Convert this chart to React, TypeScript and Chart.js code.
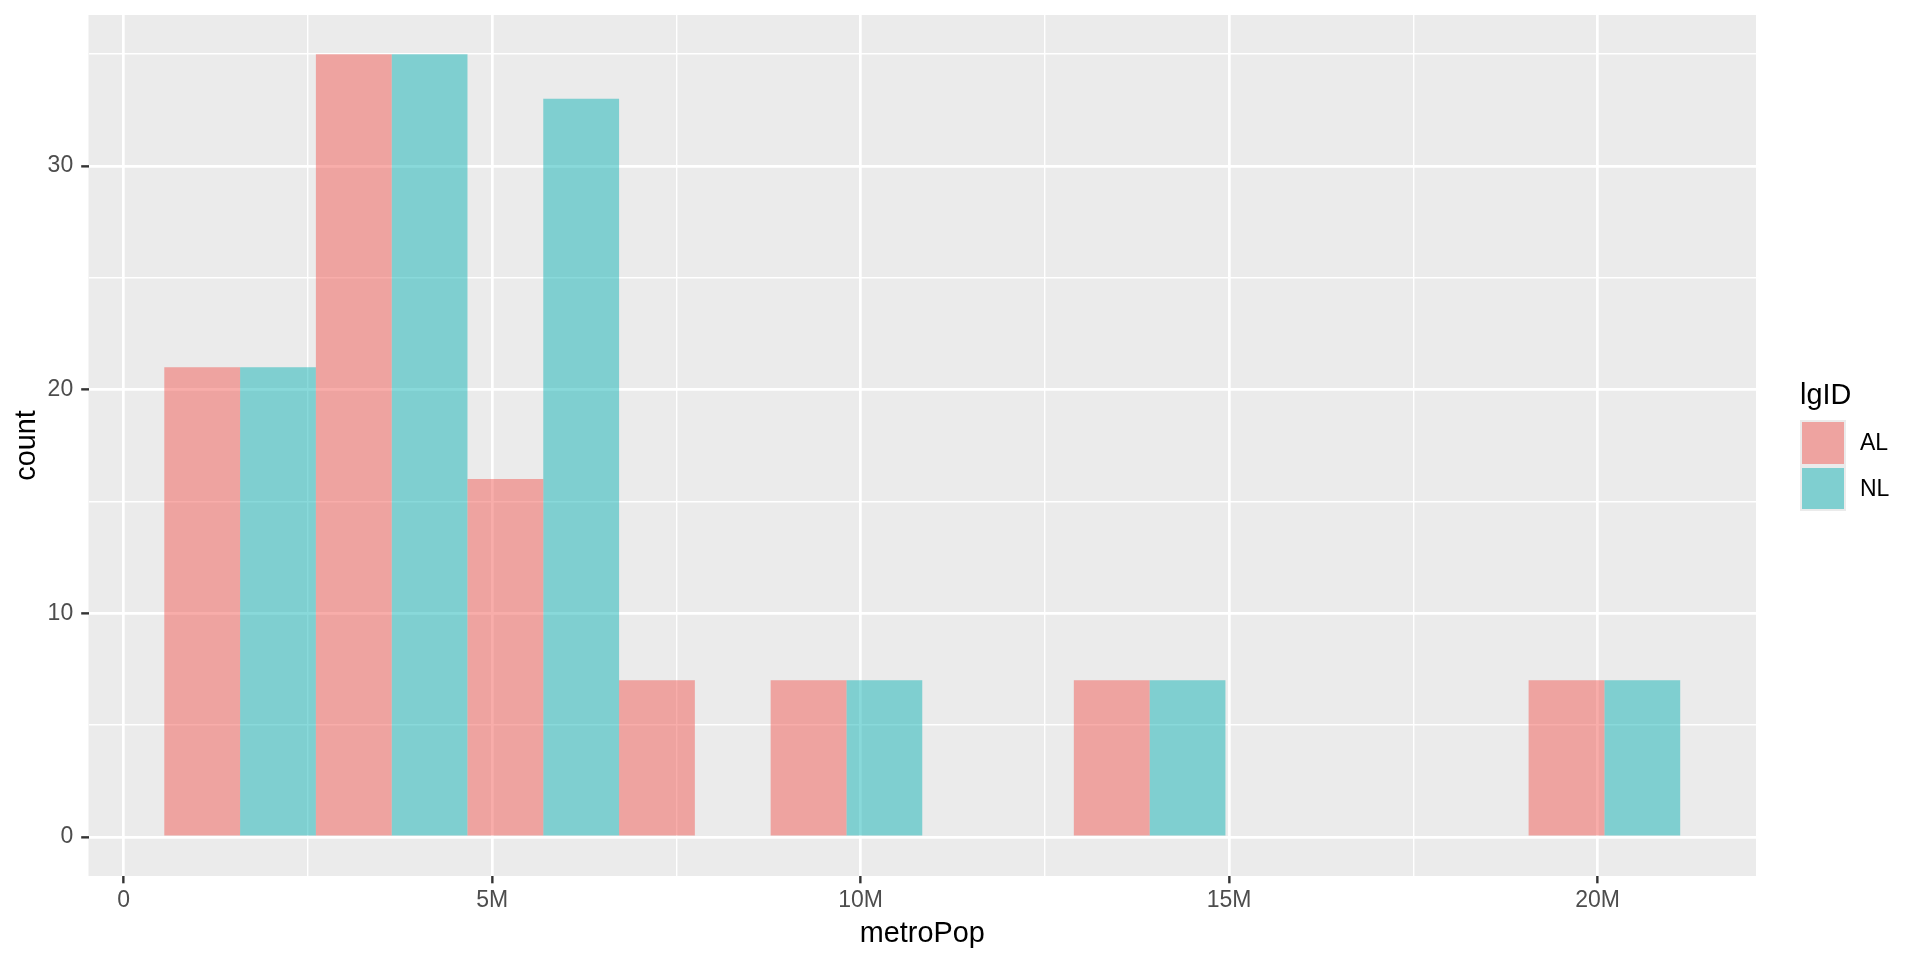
import React, { useEffect, useRef } from "react";
import { Chart, registerables } from "chart.js";

Chart.register(...registerables);

// ---- data ----
const seriesNames = ["AL", "NL"];
// histogram bin centres (metroPop, in people)
const binCenters = [1.58e6, 3.637e6, 5.694e6, 7.751e6, 9.808e6, 11.865e6, 13.922e6, 15.979e6, 18.036e6, 20.093e6];
const alCounts = [21, 35, 16, 7, 7, 0, 7, 0, 0, 7];
const nlCounts = [21, 35, 33, 0, 7, 0, 7, 0, 0, 7];
const xTickValues = [0, 2.5e6, 5e6, 7.5e6, 10e6, 12.5e6, 15e6, 17.5e6, 20e6];
const xTickLabels = ["0", "", "5M", "", "10M", "", "15M", "", "20M"];
const yTickValues = [0, 5, 10, 15, 20, 25, 30, 35];
const yTickLabels = ["0", "", "10", "", "20", "", "30", ""];
const seriesColors = ["rgba(241,91,85,0.5)", "rgba(19,179,181,0.5)"];
const xTitle = "metroPop";
const yTitle = "count";
const legendTitle = "lgID";

const FONT = "'Liberation Sans', Arial, Helvetica, sans-serif";

const panelBg = {
  id: "panelBg",
  beforeDraw(chart: any) {
    const { ctx, chartArea } = chart;
    if (!chartArea) return;
    ctx.save();
    ctx.fillStyle = "#EBEBEB";
    ctx.fillRect(chartArea.left, chartArea.top, chartArea.right - chartArea.left, chartArea.bottom - chartArea.top);
    ctx.restore();
  },
};

export default function App() {
  const canvasRef = useRef<HTMLCanvasElement | null>(null);

  useEffect(() => {
    if (!canvasRef.current) return;
    Chart.defaults.font.family = FONT;
    const toPoints = (counts: number[]) =>
      binCenters.map((x, i) => ({ x, y: counts[i] === 0 ? null : counts[i] }));
    const chart = new Chart(canvasRef.current, {
      type: "bar",
      data: {
        datasets: [
          {
            label: seriesNames[0],
            data: toPoints(alCounts),
            backgroundColor: seriesColors[0],
            borderWidth: 0,
            inflateAmount: 0,
            categoryPercentage: 1,
            barPercentage: 1,
          },
          {
            label: seriesNames[1],
            data: toPoints(nlCounts),
            backgroundColor: seriesColors[1],
            borderWidth: 0,
            inflateAmount: 0,
            categoryPercentage: 1,
            barPercentage: 1,
          },
        ],
      },
      options: {
        animation: false,
        responsive: false,
        devicePixelRatio: 1,
        layout: { padding: { left: 0, top: 15, right: 164, bottom: 0 } },
        plugins: {
          legend: { display: false },
          tooltip: { enabled: false },
        },
        scales: {
          x: {
            type: "linear",
            min: -0.477e6,
            max: 22.15e6,
            offset: false,
            border: { display: false },
            grid: {
              offset: false,
              color: "#FFFFFF",
              lineWidth: (c: any) => (c.index % 2 === 0 ? 2.7 : 1.4),
              tickColor: (c: any) => (c.index % 2 === 0 ? "#333333" : "rgba(0,0,0,0)"),
              tickLength: 7.3,
              tickWidth: 2.4,
              drawTicks: true,
            },
            afterBuildTicks: (scale: any) => {
              scale.ticks = xTickValues.map((v) => ({ value: v }));
            },
            afterFit: (scale: any) => {
              scale.height = 84;
              scale.paddingLeft = 0;
              scale.paddingRight = 0;
            },
            ticks: {
              autoSkip: false,
              maxRotation: 0,
              minRotation: 0,
              padding: 4,
              color: "#4D4D4D",
              font: { size: 23, family: FONT },
              callback: (_v: any, i: number) => xTickLabels[i],
            },
            title: {
              display: true,
              text: xTitle,
              color: "#000000",
              font: { size: 28.8, family: FONT },
              padding: { top: 0, bottom: 8.5 },
            },
          },
          y: {
            type: "linear",
            min: -1.75,
            max: 36.75,
            beginAtZero: false,
            border: { display: false },
            grid: {
              color: "#FFFFFF",
              lineWidth: (c: any) => (c.index % 2 === 0 ? 2.7 : 1.4),
              tickColor: (c: any) => (c.index % 2 === 0 ? "#333333" : "rgba(0,0,0,0)"),
              tickLength: 7.3,
              tickWidth: 2.4,
              drawTicks: true,
            },
            afterBuildTicks: (scale: any) => {
              scale.ticks = yTickValues.map((v) => ({ value: v }));
            },
            afterFit: (scale: any) => {
              scale.width = 88.5;
              scale.paddingTop = 0;
              scale.paddingBottom = 0;
            },
            ticks: {
              autoSkip: false,
              padding: 8,
              color: "#4D4D4D",
              font: { size: 23, family: FONT },
              callback: (_v: any, i: number) => yTickLabels[i],
            },
            title: {
              display: true,
              text: yTitle,
              color: "#000000",
              font: { size: 28.8, family: FONT },
              padding: { top: 9.7, bottom: 0 },
            },
          },
        },
      },
      plugins: [panelBg],
    } as any);
    return () => chart.destroy();
  }, []);

  return (
    <div style={{ position: "fixed", left: 0, top: 0, width: 1920, height: 960, background: "#FFFFFF", fontFamily: FONT }}>
      <canvas ref={canvasRef} width={1920} height={960} style={{ display: "block", width: 1920, height: 960 }} />
      <div
        style={{
          position: "absolute",
          left: 1800,
          top: 379.6,
          fontSize: 28.8,
          lineHeight: "28.8px",
          color: "#000000",
          whiteSpace: "nowrap",
        }}
      >
        {legendTitle}
      </div>
      {seriesNames.map((name, i) => (
        <div
          key={name}
          style={{
            position: "absolute",
            left: 1800,
            top: 420 + i * 45.6,
            height: 45.6,
            display: "flex",
            alignItems: "center",
          }}
        >
          <div style={{ width: 46, height: 45.6, background: "#EBEBEB", position: "relative" }}>
            <div
              style={{
                position: "absolute",
                left: 2,
                top: 2,
                right: 2,
                bottom: 2,
                background: seriesColors[i],
              }}
            />
          </div>
          <div style={{ marginLeft: 14, fontSize: 23, lineHeight: "23px", color: "#000000", whiteSpace: "nowrap" }}>
            {name}
          </div>
        </div>
      ))}
    </div>
  );
}
